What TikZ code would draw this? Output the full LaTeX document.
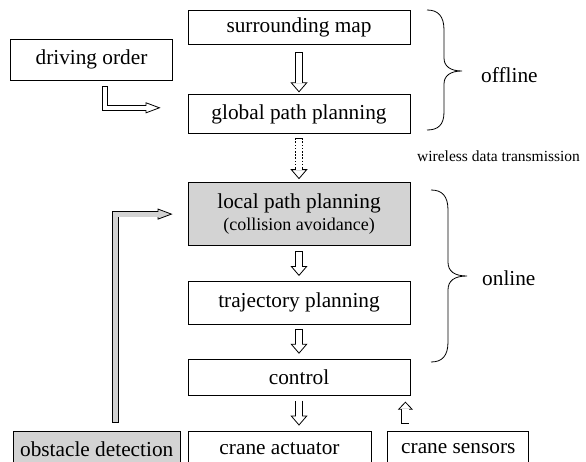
\documentclass[tikz,border=0pt]{standalone}
\usepackage{fontspec}
\setmainfont{Liberation Serif}
\usetikzlibrary{arrows.meta,positioning,calc}
\definecolor{boxgray}{HTML}{D3D3D3}
\newcommand{\mainsize}{\fontsize{21.3}{26}\selectfont}
\tikzset{
  box/.style={draw=black,line width=0.8pt,fill=white,align=center,inner sep=2pt,font=\mainsize},
  graybox/.style={box,fill=boxgray},
  midbox/.style={box,minimum width=222pt},
  sidetext/.style={anchor=base west,inner sep=0pt,font=\mainsize},
  hollow/.style n args={4}{line width=#1,
    -{Triangle[length=#3,width=#2,line width=0.8pt,fill=#4]},
    postaction={draw=#4,solid,line width=#1-1.6pt,arrows=-,
      shorten <=0.8pt,shorten >=#3-1pt}},
  flowarrow/.style={hollow={8pt}{17pt}{10pt}{white}},
  backarrow/.style={hollow={8pt}{15pt}{8pt}{white}},
  feedarrow/.style={hollow={6pt}{11pt}{15pt}{white}},
  grayarrow/.style={hollow={6.5pt}{11pt}{15pt}{boxgray}},
  bracket/.style={line width=0.8pt}
}
\begin{document}
\begin{tikzpicture}[x=1pt,y=1pt]
  \useasboundingbox (0,0) rectangle (586,-461);
  \clip (0,0) rectangle (586,-461);
  % planning column
  \node[midbox,minimum height=34pt] (map) at (299,-27) {surrounding map};
  \node[midbox,minimum height=39pt,below=50pt of map] (global) {global path planning};
  \node[midbox,graybox,minimum height=63pt,below=48pt of global] (local)
    {\raisebox{-4pt}{local path planning}\\{\fontsize{18}{26}\selectfont (collision avoidance)}};
  \node[midbox,minimum height=43pt,below=35pt of local] (traj) {trajectory planning};
  \node[midbox,minimum height=36pt,below=34pt of traj] (control) {control};
  \node[box,minimum width=162pt,minimum height=41pt] (drive) at (91.5,-59.5) {driving order};
  % hardware row
  \node[box,minimum width=183pt,minimum height=36pt,below=35pt of control.south west,
    anchor=north west] (actuator) {crane actuator};
  \node[box,minimum width=141pt,minimum height=36pt,right=16pt of actuator] (sensors) {crane sensors};
  \node[graybox,minimum width=167pt,minimum height=36pt,left=7pt of actuator] (obstacle) {obstacle detection};

  % block arrows
  \draw[flowarrow] ([yshift=-8pt]map.south) -- ([yshift=2pt]global.north);
  \draw[flowarrow,dash pattern=on 1.6pt off 1.6pt] ([yshift=-4pt]global.south) -- ([yshift=3pt]local.north);
  \draw[flowarrow] ([yshift=-5pt]local.south) -- ([yshift=5pt]traj.north);
  \draw[flowarrow] ([yshift=-4pt]traj.south) -- ([yshift=5pt]control.north);
  \coordinate (actin) at (control.south |- actuator.north);
  \draw[flowarrow] ([yshift=-5pt]control.south) -- ([yshift=5pt]actin);
  \coordinate (sensout) at ([xshift=18pt]sensors.north west);
  \coordinate (sensin) at (sensout |- control.south);
  \draw[backarrow] ([yshift=7pt]sensout) -- ([yshift=-6pt]sensin);
  \coordinate (drivein) at ([xshift=-27pt,yshift=6.5pt]global.west);
  \draw[feedarrow] ([xshift=13.5pt,yshift=-6pt]drive.south) |- (drivein);
  \coordinate (obstin) at ([xshift=-15pt]local.west);
  \draw[grayarrow] ([xshift=19pt,yshift=8pt]obstacle.north) |- (obstin);

  % braces and notes
  \draw[bracket] (427,-10) .. controls (438,-10) and (444,-16) .. (444,-30) -- (444,-58)
    .. controls (444,-66) and (450,-71) .. (462,-71)
    .. controls (450,-71) and (444,-76) .. (444,-84) -- (444,-112)
    .. controls (444,-125) and (438,-130) .. (427,-130);
  \draw[bracket] (431,-190) .. controls (442,-190) and (448,-196) .. (448,-210) -- (448,-262)
    .. controls (448,-271) and (454,-276) .. (467,-276)
    .. controls (454,-276) and (448,-281) .. (448,-290) -- (448,-342)
    .. controls (448,-356) and (442,-362) .. (431,-362);
  \node[sidetext] (offl) at (481,-82) {offline};
  \node[sidetext] (onl) at (482,-285) {online};
  \node[sidetext,font=\fontsize{15.5}{18}\selectfont] (wire) at (417,-161) {wireless data transmission};
\end{tikzpicture}
\end{document}
